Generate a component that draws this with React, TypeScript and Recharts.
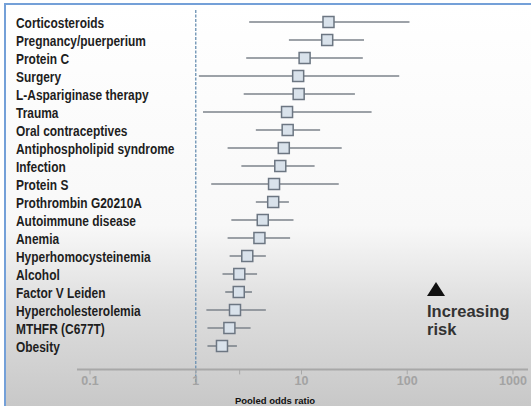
import { ScatterChart, Scatter, XAxis, YAxis, ErrorBar, ReferenceLine } from "recharts";

const factors = [
  "Corticosteroids",
  "Pregnancy/puerperium",
  "Protein C",
  "Surgery",
  "L-Aspariginase therapy",
  "Trauma",
  "Oral contraceptives",
  "Antiphospholipid syndrome",
  "Infection",
  "Protein S",
  "Prothrombin G20210A",
  "Autoimmune disease",
  "Anemia",
  "Hyperhomocysteinemia",
  "Alcohol",
  "Factor V Leiden",
  "Hypercholesterolemia",
  "MTHFR (C677T)",
  "Obesity",
];
const oddsRatios = [18, 17.5, 10.7, 9.3, 9.4, 7.3, 7.4, 6.8, 6.3, 5.5, 5.4, 4.3, 4.0, 3.07, 2.58, 2.55, 2.35, 2.08, 1.77];
const lowerCI = [3.2, 7.6, 3.0, 1.07, 2.84, 1.17, 3.7, 2.0, 2.7, 1.4, 3.7, 2.17, 2.0, 2.09, 1.79, 1.9, 1.26, 1.29, 1.29];
const upperCI = [105, 39, 38, 84, 32, 46, 15, 24, 13.3, 22.5, 7.6, 8.4, 7.8, 4.6, 3.8, 3.4, 4.6, 3.3, 2.45];
const xTicks = [0.1, 1, 2.6, 10, 100, 1000];

const rows = factors.map((name, i) => ({
  row: i,
  name,
  or: oddsRatios[i],
  err: [oddsRatios[i] - lowerCI[i], upperCI[i] - oddsRatios[i]],
}));

const LINE = "#7c838b";
const AXIS = "#a8a8a8";
const SANS = '"Liberation Sans", Arial, sans-serif';

// no narrow font installed, so squeeze the bold sans horizontally
function FactorTick({ y, payload }: { y?: number; payload?: { value: number } }) {
  return (
    <text
      x={0}
      y={0}
      transform={`translate(16 ${y}) scale(0.77 1)`}
      textAnchor="start"
      dominantBaseline="central"
      fill="#1e1e1e"
      style={{ fontFamily: SANS, fontWeight: 700, fontSize: 15.5 }}
    >
      {factors[payload?.value ?? 0]}
    </text>
  );
}

function Box({ cx, cy }: { cx?: number; cy?: number }) {
  if (cx == null || cy == null) return null;
  return <rect x={cx - 5.5} y={cy - 5.5} width={11} height={11} fill="#d9e2eb" stroke="#6c7682" strokeWidth={1.5} />;
}

export default function App() {
  return (
    <div style={{ position: "absolute", left: 0, top: 0, width: 531, height: 406, background: "#fff", overflow: "hidden" }}>
      <div
        style={{
          position: "absolute",
          left: 4,
          top: 3,
          right: 0,
          bottom: 0,
          borderTop: "2px solid #74a0d8",
          borderLeft: "2px solid #74a0d8",
          background: "linear-gradient(to bottom, #ffffff 0%, #f8f8f8 55%, #dedede 75%, #c8c8c8 100%)",
        }}
      />
      <div style={{ position: "absolute", left: 0, top: 0 }}>
        <ScatterChart width={531} height={406} margin={{ top: 13, right: 3, bottom: 6.6, left: 5 }}>
          <XAxis
            dataKey="or"
            type="number"
            scale="log"
            domain={[0.0753, 1387]}
            allowDataOverflow
            ticks={xTicks}
            tickFormatter={(v: number) => (v === 2.6 ? "" : String(v))}
            height={30}
            tickSize={5}
            axisLine={{ stroke: AXIS, strokeWidth: 2 }}
            tickLine={{ stroke: AXIS }}
            tick={{ fill: "#a3a3a3", fontSize: 12.5, fontWeight: 700, fontFamily: SANS }}
          />
          <YAxis
            dataKey="row"
            type="number"
            domain={[-0.5, 19.3]}
            reversed
            ticks={rows.map((r) => r.row)}
            interval={0}
            width={72}
            axisLine={false}
            tickLine={false}
            tick={<FactorTick />}
          />
          <ReferenceLine
            segment={[
              { x: 1, y: -0.67 },
              { x: 1, y: 20.17 },
            ]}
            ifOverflow="visible"
            stroke="#6a90b2"
            strokeDasharray="3 1.5"
            strokeWidth={1.3}
          />
          <Scatter data={rows} shape={<Box />} isAnimationActive={false}>
            <ErrorBar dataKey="err" direction="x" width={0} stroke={LINE} strokeWidth={1.6} isAnimationActive={false} />
          </Scatter>
        </ScatterChart>
      </div>
      <svg width={531} height={406} style={{ position: "absolute", left: 0, top: 0, pointerEvents: "none" }}>
        <polygon points="436,282 427,296 445,296" fill="#111" />
        <text x={427} y={317} fill="#333" style={{ fontFamily: SANS, fontWeight: 700, fontSize: 16.5 }}>
          Increasing
        </text>
        <text x={427} y={335} fill="#333" style={{ fontFamily: SANS, fontWeight: 700, fontSize: 16.5 }}>
          risk
        </text>
        <text
          x={275}
          y={400}
          textAnchor="middle"
          dominantBaseline="central"
          fill="#111"
          style={{ fontFamily: SANS, fontWeight: 700, fontSize: 9.5 }}
        >
          Pooled odds ratio
        </text>
      </svg>
    </div>
  );
}
